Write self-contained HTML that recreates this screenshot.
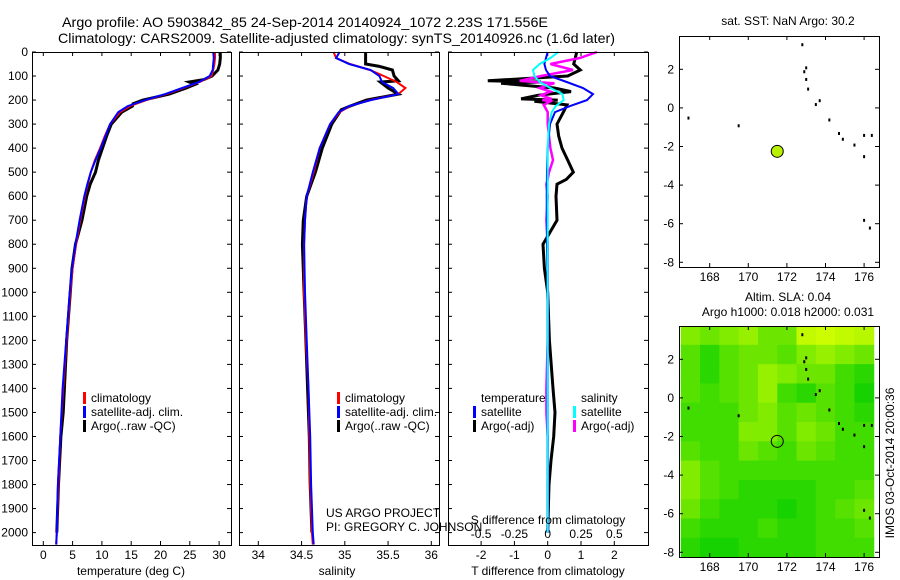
<!DOCTYPE html>
<html><head><meta charset="utf-8"><style>
html,body{margin:0;padding:0;background:#fff;}
svg{display:block;font-family:"Liberation Sans",sans-serif;}
</style></head><body>
<svg id="fig" width="900" height="580" viewBox="0 0 900 580"></svg>
<script>
// ---------- DATA ----------
const depthsT = [0,25,50,75,100,125,150,175,200,225,250,300,350,400,450,500,550,600,700,800,900,1000,1200,1400,1600,1800,2000,2050];
const tempClim = [29.3,29.3,29.2,29.0,28.7,26.7,23.9,21.0,17.6,14.8,13.1,11.4,10.5,9.7,8.8,8.1,7.6,7.1,6.3,5.6,5.0,4.6,4.0,3.4,2.9,2.6,2.3,2.2];
const tempSat  = [29.0,29.1,29.0,28.9,28.4,26.6,23.7,20.8,17.4,14.4,12.8,11.4,10.6,9.8,8.9,8.1,7.5,7.0,6.2,5.5,4.9,4.5,3.9,3.3,2.9,2.5,2.3,2.2];
const depthsArgoT = [0,25,50,75,100,115,125,135,150,175,200,215,225,250,300,350,400,450,500,550,600,700,800,900,1000,1200,1400,1500,1600,1800,2000];
const tempArgo = [30.2,30.2,30.1,29.8,28.8,27.4,24.9,25.9,24.4,21.5,17.0,15.3,15.2,13.4,11.6,10.8,10.1,9.4,8.9,8.0,7.4,6.6,5.5,4.9,4.6,4.0,3.6,3.4,3.0,2.6,2.3];
const depthsS = [0,25,50,75,100,125,150,175,200,225,250,300,350,400,500,600,700,800,1000,1200,1400,1600,1800,2000,2050];
const salClim = [34.87,34.9,35.06,35.29,35.45,35.6,35.7,35.62,35.29,35.06,34.94,34.83,34.77,34.71,34.64,34.56,34.54,34.53,34.53,34.55,34.58,34.59,34.6,34.62,34.63];
const salSat  = [34.94,34.9,35.05,35.3,35.4,35.43,35.56,35.62,35.3,35.05,34.93,34.83,34.77,34.71,34.63,34.56,34.54,34.53,34.54,34.56,34.58,34.6,34.61,34.63,34.64];
const depthsArgoS = [0,25,50,60,75,100,120,125,150,175,200,225,240,300,400,500,600,700,800,1000,1200,1400,1600,1800,2000];
const salArgo = [35.24,35.24,35.24,35.4,35.55,35.57,35.62,35.41,35.5,35.62,35.25,35.06,34.96,34.85,34.74,34.66,34.56,34.52,34.51,34.53,34.55,34.57,34.59,34.6,34.62];
const depthsDT = [0,25,50,75,100,125,150,175,200,225,250,300,400,500,600,800,1000,1200,1400,1600,1800,2000];
const dTsat = [0,-0.05,-0.1,-0.05,0.07,0.57,1.06,1.36,1.18,0.67,0.22,0.07,0,-0.02,-0.03,-0.02,0,0,0,0,0,0];
const dSsat = [0.08,0.02,-0.06,-0.11,-0.1,-0.06,0.02,0.11,0.12,0.06,0.03,0.01,0,0,0,0,0,0,0,0,0,0];
const depthsDA = [0,25,50,75,100,120,125,130,150,165,180,195,200,205,220,250,300,350,400,450,500,530,550,600,700,800,900,1000,1200,1400,1500,1600,1700,1800,2000];
const dTargo = [0.87,0.83,0.78,0.98,0.6,-1.8,-0.2,-1.4,0.2,0.7,-0.3,-0.8,0.3,-0.4,0.58,0.47,0.28,0.33,0.43,0.6,0.77,0.56,0.28,0.25,0.28,-0.14,-0.1,0,0.05,0.16,0.22,0.18,0.1,0.04,0];
const dSargo = [0.37,0.24,0.02,0.19,-0.05,-0.21,-0.1,0.05,-0.06,0.02,-0.05,0.03,-0.04,0.02,-0.03,0,0,0.01,0.02,0.04,0.01,0,-0.01,0,-0.01,0,0,0,0,-0.01,-0.01,0,0,0,0];
const depthTicks = [0,100,200,300,400,500,600,700,800,900,1000,1100,1200,1300,1400,1500,1600,1700,1800,1900,2000];
const tempTicks = [0,5,10,15,20,25,30];
const salTicks = [34,34.5,35,35.5,36];
const dTTicks = [-2,-1,0,1,2];
const dSTicks = [-0.5,-0.25,0,0.25,0.5];
const lonTicks = [168,170,172,174,176];
const latTicks = [2,0,-2,-4,-6,-8];
const argoLon = [171.5];
const argoLat = [-2.25];
const islandLon = [172.8,172.9,173.0,173.1,173.0,173.5,173.7,174.2,174.7,174.9,175.5,176.0,176.4,176.0,176.3,169.5,166.9,176.0];
const islandLat = [3.3,1.9,1.5,1.0,2.1,0.2,0.4,-0.6,-1.3,-1.6,-1.9,-1.4,-1.4,-5.8,-6.2,-0.9,-0.5,-2.5];
const slaGrid = [
[0.6,0.5,0.6,0.7,0.5,0.5,0.9,0.95,0.9,0.85],
[0.4,0.2,0.4,0.5,0.5,0.4,0.6,0.7,0.6,0.5],
[0.4,0.2,0.4,0.5,0.7,0.6,0.5,0.5,0.3,0.2],
[0.4,0.3,0.4,0.5,0.7,0.3,0.2,0.4,0.3,0.1],
[0.3,0.3,0.3,0.5,0.6,0.4,0.5,0.4,0.3,0.2],
[0.3,0.3,0.3,0.6,0.6,0.4,0.6,0.5,0.3,0.3],
[0.4,0.3,0.3,0.5,0.4,0.3,0.5,0.4,0.3,0.3],
[0.6,0.4,0.3,0.3,0.3,0.3,0.3,0.3,0.3,0.3],
[0.6,0.4,0.3,0.2,0.2,0.2,0.2,0.3,0.3,0.4],
[0.5,0.3,0.2,0.2,0.2,0.1,0.2,0.3,0.4,0.5],
[0.3,0.2,0.2,0.2,0.3,0.2,0.2,0.3,0.3,0.4],
[0.2,0.1,0.1,0.2,0.2,0.2,0.2,0.3,0.3,0.3]];

// ---------- HELPERS ----------
const NS="http://www.w3.org/2000/svg";
const svg=document.getElementById('fig');
function el(tag,attrs,parent){const e=document.createElementNS(NS,tag);for(const k in attrs)e.setAttribute(k,attrs[k]);(parent||svg).appendChild(e);return e;}
function txt(s,x,y,anchor,size,parent){const t=el('text',{x:x,y:y,'text-anchor':anchor||'start','font-size':size||12,fill:'#000'},parent);t.textContent=s;return t;}
const PT=52, PB=545;
const yD=d=>PT+d*0.2403;
const xT=v=>43.3+v*5.86;
const xS=v=>258.3+(v-34)*86.5;
const xdT=v=>547.7+v*33.3;
const xdS=v=>547.7+v*133.3;
function line(xs,ys,fx,color,w,name){
  const p=xs.map((v,i)=>fx(v).toFixed(1)+','+yD(ys[i]).toFixed(1)).join(' ');
  const e=el('polyline',{points:p,fill:'none',stroke:color,'stroke-width':w});
  
  
}
function frame(x0,x1,y0,y1,name){
  const r=el('rect',{x:x0+0.5,y:y0+0.5,width:x1-x0,height:y1-y0,fill:'none',stroke:'#000','stroke-width':1});
  
  
}

// ---------- TITLES ----------
let t=txt('Argo profile: AO 5903842_85 24-Sep-2014 20140924_1072 2.23S 171.556E',62,27,'start',14);
t.setAttribute('textLength','486');t.setAttribute('lengthAdjust','spacingAndGlyphs');

t=txt('Climatology: CARS2009. Satellite-adjusted climatology: synTS_20140926.nc (1.6d later)',58,43,'start',14);
t.setAttribute('textLength','557');t.setAttribute('lengthAdjust','spacingAndGlyphs');


// ---------- PANEL 1 ----------
depthTicks.forEach(d=>{const y=yD(d);txt(String(d),28,y+4,'end',12);
  el('line',{x1:32,x2:36,y1:y,y2:y,stroke:'#000'});el('line',{x1:227,x2:231,y1:y,y2:y,stroke:'#000'});
  el('line',{x1:239,x2:243,y1:y,y2:y,stroke:'#000'});el('line',{x1:435,x2:439,y1:y,y2:y,stroke:'#000'});
  el('line',{x1:448,x2:452,y1:y,y2:y,stroke:'#000'});el('line',{x1:644,x2:648,y1:y,y2:y,stroke:'#000'});});
tempTicks.forEach(v=>{const x=xT(v);el('line',{x1:x,x2:x,y1:PT,y2:PT+4,stroke:'#000'});el('line',{x1:x,x2:x,y1:PB-4,y2:PB,stroke:'#000'});txt(String(v),x,559,'middle',12);});
line(tempArgo,depthsArgoT,xT,'#000',3,'temp-argo-line');
line(tempClim,depthsT,xT,'#f00',2,'temp-climatology-line');
line(tempSat,depthsT,xT,'#00f',2,'temp-satellite-line');
frame(32,231,PT,PB,'temperature-panel');
t=txt('temperature (deg C)',131,575,'middle',12);

function legend(x,y0,items){items.forEach((it,i)=>{const y=y0+i*14;el('rect',{x:x,y:y-10,width:3,height:12,fill:it[1]});txt(it[0],x+8,y,'start',12);});}
legend(83,402,[['climatology','#f00'],['satellite-adj. clim.','#00f'],['Argo(..raw -QC)','#000']]);

// ---------- PANEL 2 ----------
salTicks.forEach(v=>{const x=xS(v);el('line',{x1:x,x2:x,y1:PT,y2:PT+4,stroke:'#000'});el('line',{x1:x,x2:x,y1:PB-4,y2:PB,stroke:'#000'});txt(String(v),x,559,'middle',12);});
line(salArgo,depthsArgoS,xS,'#000',3,'salinity-argo-line');
line(salClim,depthsS,xS,'#f00',2,'salinity-climatology-line');
line(salSat,depthsS,xS,'#00f',2,'salinity-satellite-line');
frame(239,439,PT,PB,'salinity-panel');
t=txt('salinity',337,575,'middle',12);
legend(337,402,[['climatology','#f00'],['satellite-adj. clim.','#00f'],['Argo(..raw -QC)','#000']]);
txt('US ARGO PROJECT',326,517,'start',12);
txt('PI: GREGORY C. JOHNSON',326,531,'start',12);

// ---------- PANEL 3 ----------
dTTicks.forEach(v=>{const x=xdT(v);el('line',{x1:x,x2:x,y1:PT,y2:PT+4,stroke:'#000'});el('line',{x1:x,x2:x,y1:PB-4,y2:PB,stroke:'#000'});txt(String(v),x,559,'middle',12);});
dSTicks.forEach(v=>{txt(String(v),xdS(v),538,'middle',12);});
line(dTargo,depthsDA,xdT,'#000',3,'tdiff-argo-line');
line(dSargo,depthsDA,xdS,'#f0f',2.5,'sdiff-argo-line');
line(dTsat,depthsDT,xdT,'#00f',2,'tdiff-satellite-line');
line(dSsat,depthsDT,xdS,'#0ff',2,'sdiff-satellite-line');
frame(448,648,PT,PB,'difference-panel');
txt('S difference from climatology',548,524,'middle',12);
t=txt('T difference from climatology',548,575,'middle',12);
txt('temperature',481,402,'start',12);txt('salinity',581,402,'start',12);
[['satellite','#00f',473],['Argo(-adj)','#000',473],['satellite','#0ff',573],['Argo(-adj)','#f0f',573]].forEach((it,i)=>{const y=416+(i%2)*14;el('rect',{x:it[2],y:y-10,width:3,height:12,fill:it[1]});txt(it[0],it[2]+8,y,'start',12);});

// ---------- MAPS ----------
const MX0=679,MX1=879;
const xL=l=>709.7+(l-168)*19.3;
function mapAxes(top,bottom,lat2y,name){
  const yL=l=>lat2y+(2-l)*19.3;
  lonTicks.forEach(v=>{const x=xL(v);el('line',{x1:x,x2:x,y1:top,y2:top+4,stroke:'#000'});el('line',{x1:x,x2:x,y1:bottom-4,y2:bottom,stroke:'#000'});txt(String(v),x,bottom+14,'middle',12);});
  latTicks.forEach(v=>{const y=yL(v);el('line',{x1:MX0,x2:MX0+4,y1:y,y2:y,stroke:'#000'});el('line',{x1:MX1-4,x2:MX1,y1:y,y2:y,stroke:'#000'});txt(String(v),MX0-5,y+4,'end',12);});
  islandLon.forEach((lo,i)=>{const d=el('rect',{x:xL(lo)-1,y:yL(islandLat[i])-1,width:2,height:3,fill:'#000'});});
  frame(MX0,MX1,top,bottom,name);
  return yL;
}
txt('sat. SST: NaN Argo: 30.2',788,25,'middle',12);
let yL1=mapAxes(36,267,69.3,'sst-map');
argoLon.forEach((lo,i)=>{const c=el('circle',{cx:xL(lo),cy:yL1(argoLat[i]),r:6,fill:'#b8f000',stroke:'#000'});});

txt('Altim. SLA: 0.04',788,301,'middle',12);
txt('Argo h1000: 0.018 h2000: 0.031',788,316,'middle',12);
const g=el('g',{});
const yL2top=l=>359.3+(2-l)*19.3;
function col(v){const r=Math.round(0+v*215),gg=Math.round(205+v*50);return 'rgb('+r+','+gg+',0)';}
slaGrid.forEach((row,ri)=>row.forEach((v,ci)=>{
  const lon0=166.5+ci, lat0=3.75-ri;
  const x=Math.max(MX0,xL(lon0)), x2=Math.min(MX1,xL(lon0+1));
  const y=Math.max(326,yL2top(lat0)), y2=Math.min(557,yL2top(lat0-1));
  const r=el('rect',{x:x,y:y,width:x2-x+0.5,height:y2-y+0.5,fill:col(v)},g);
  
  
}));
let yL2=mapAxes(326,557,359.3,'sla-map');
argoLon.forEach((lo,i)=>{const c=el('circle',{cx:xL(lo),cy:yL2(argoLat[i]),r:6,fill:'none',stroke:'#000'});});
t=txt('IMOS 03-Oct-2014 20:00:36',0,0,'middle',12);
t.setAttribute('transform','translate(894,463) rotate(-90)');

</script>
</body></html>
